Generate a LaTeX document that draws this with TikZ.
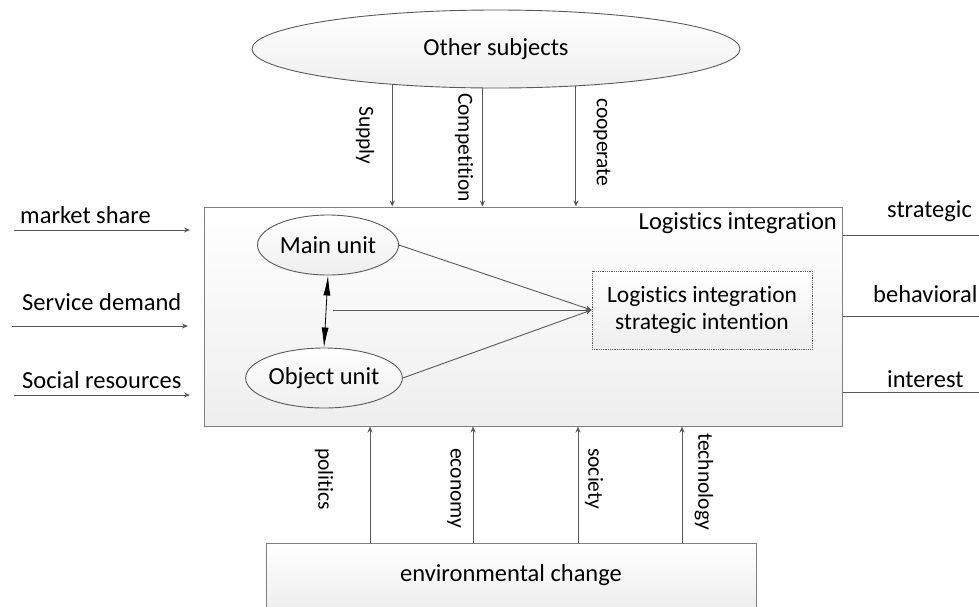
\documentclass[tikz,border=0pt]{standalone}
\usepackage{fontspec}
\setmainfont{Carlito}[Ligatures={NoCommon}]
\usetikzlibrary{shapes.geometric,arrows.meta,calc}
\definecolor{ln}{HTML}{595959}
\definecolor{bx}{HTML}{7F7F7F}
\begin{document}
\begin{tikzpicture}[x=1pt,y=-1pt,
  every node/.style={font=\fontsize{24.5}{29}\selectfont, text=black},
  lbl/.style={inner sep=0pt},
  vlbl/.style={inner sep=0pt, rotate=-90, anchor=west, font=\fontsize{21.5}{25}\selectfont},
  arr/.style={draw=ln, line width=0.9pt, -{Stealth[length=6pt,width=5pt]}},
  plain/.style={draw=ln, line width=0.9pt},
  shadeA/.style={top color=white, bottom color=gray!13},
  dbl/.style={draw=black, line width=0.8pt, {Latex[length=20pt,width=7pt]}-{Latex[length=20pt,width=7pt]}}
]
\useasboundingbox (0,0) rectangle (979,606);

% main box
\node[draw=bx, line width=1pt, shadeA, minimum width=638pt, minimum height=219pt, inner sep=0pt] (main) at (523,316.5) {};
\node[lbl, anchor=base east] (title) at (837,229) {Logistics integration};

% other subjects
\node[ellipse, plain, shadeA, inner sep=0pt, minimum width=488pt, minimum height=78pt] (other) at (496,49) {Other subjects};

% units
\node[ellipse, plain, shadeA, inner sep=0pt, minimum width=141pt, minimum height=60pt] (mu) at (328,245) {Main unit};
\node[ellipse, plain, shadeA, inner sep=0pt, minimum width=152pt, minimum height=60pt] (ou) at (324,378) {Object unit};
\node[draw=ln, densely dotted, line width=0.8pt, shadeA, minimum width=220pt, minimum height=78pt, inner sep=0pt, align=center, font=\fontsize{23.5}{27}\selectfont] (si) at (702,310) {Logistics integration\\strategic intention};

% environmental change
\node[draw=bx, line width=1pt, shadeA, minimum width=490pt, minimum height=64pt, inner sep=0pt] (env) at (511,575) {environmental change};

% top arrows
\draw[arr] (other.199) -- (other.199 |- main.north);
\draw[arr] (other.251.5) -- (other.251.5 |- main.north);
\draw[arr] (other.335.3) -- (other.335.3 |- main.north);
\node[vlbl] (lsup) at (365,106) {Supply};
\node[vlbl] (lcomp) at (464,93) {Competition};
\node[vlbl] (lcoop) at (602,98) {cooperate};

% bottom arrows
\coordinate (b1) at (370,0);
\coordinate (b2) at (473,0);
\coordinate (b3) at (578,0);
\coordinate (b4) at (682,0);
\draw[arr] (env.north -| b1) -- (main.south -| b1);
\draw[arr] (env.north -| b2) -- (main.south -| b2);
\draw[arr] (env.north -| b3) -- (main.south -| b3);
\draw[arr] (env.north -| b4) -- (main.south -| b4);
\node[vlbl] (lpol) at (324,448) {politics};
\node[vlbl] (leco) at (454,448) {economy};
\node[vlbl] (lsoc) at (594,448) {society};
\node[vlbl] (ltec) at (704,433) {technology};

% left arrows
\coordinate (ls1) at (14,230);  \coordinate (le1) at (190,230);
\coordinate (ls2) at (12,326);  \coordinate (le2) at (188,326);
\coordinate (ls3) at (14,395);  \coordinate (le3) at (190,395);
\draw[arr] (ls1) -- (le1);
\draw[arr] (ls2) -- (le2);
\draw[arr] (ls3) -- (le3);
\node[lbl, anchor=base west] (lms) at (20,223) {market share};
\node[lbl, anchor=base west] (lsd) at (22,310) {Service demand};
\node[lbl, anchor=base west] (lsr) at (22,388) {Social resources};

% right lines
\coordinate (r1) at (979,235);
\coordinate (r2) at (979,316);
\coordinate (r3) at (979,392);
\draw[plain] (main.east |- r1) -- (r1);
\draw[plain] (main.east |- r2) -- (r2);
\draw[plain] (main.east |- r3) -- (r3);
\node[lbl, anchor=base west] (lst) at (887,217) {strategic};
\node[lbl, anchor=base west] (lbe) at (873,302) {behavioral};
\node[lbl, anchor=base west] (lin) at (887,387) {interest};

% inner connectors
\coordinate (hs) at (333,310);
\draw[arr] (hs) -- (si.west);
\draw[arr] (mu.east) -- (si.west);
\draw[arr] (ou.east) -- (si.west);
\draw[dbl] (mu.south) -- (ou.north);
\end{tikzpicture}
\end{document}
